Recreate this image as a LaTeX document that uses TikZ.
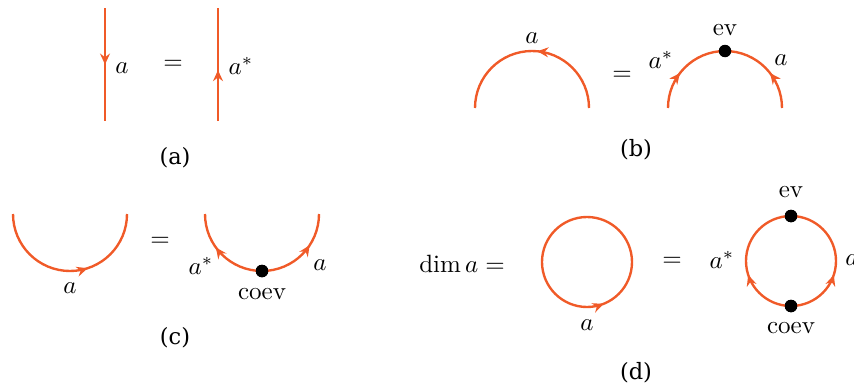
\documentclass[tikz,border=0pt]{standalone}
\usepackage{fontspec}
\newfontfamily\capfont{DejaVu Serif}
\usetikzlibrary{arrows.meta, decorations.markings}
\definecolor{wire}{RGB}{240,90,40}
\tikzset{
    strand/.style = {
        draw=wire, line width=0.95pt
    },
    arrowat/.style = {
        postaction={decorate},
        decoration={markings,
            mark=at position #1 with {\arrow[wire]{Stealth[length=4.4pt,width=4pt,inset=1.5pt]}}}
    },
    dot/.style = {
        circle, fill=black, inner sep=0pt, minimum size=5pt
    },
    caption/.style = {
        font=\capfont\fontsize{9}{10}\selectfont
    }
}

\begin{document}
\begin{tikzpicture}[x=0.4pt, y=0.4pt]
\useasboundingbox (0,0) rectangle (854,388);

% (a)
\coordinate (a1t) at (105,380);
\coordinate (a1b) at (105,267);
\coordinate (a2t) at (218,380);
\coordinate (a2b) at (218,267);
\draw [strand, arrowat=0.5] (a1t) -- (a1b);
\draw [strand, arrowat=0.45] (a2b) -- (a2t);
\node (la1) at (122,320) {$a$};
\node (eqa) at (173,323) {$=$};
\node (la2) at (241,322) {$a^*$};
\node (capa) [caption] at (175,230) {(a)};

% (b)
\coordinate (b1r) at (589,280);
\coordinate (b2l) at (668,280);
\coordinate (b2r) at (782,280);
\draw [strand, arrowat=0.47] (b1r) arc[start angle=0, end angle=180, radius=57];
\draw [strand, arrowat=0.42] (b2l) arc[start angle=180, end angle=90, radius=57];
\draw [strand, arrowat=0.42] (b2r) arc[start angle=0, end angle=90, radius=57];
\node (ev1) [dot] at (725,337) {};
\node (lev1) at (725,358) {$\mathrm{ev}$};
\node (lb1) at (532,350) {$a$};
\node (eqb) at (622,312) {$=$};
\node (lb2) at (661,328) {$a^*$};
\node (lb3) at (781,328) {$a$};
\node (capb) [caption] at (636,238) {(b)};

% (c)
\coordinate (c1l) at (13,174);
\draw [strand, arrowat=0.6] (c1l) arc[start angle=180, end angle=360, radius=57];
\node (co1) [dot] at (262,117) {};
\draw [strand, arrowat=0.6] (co1.center) arc[start angle=270, end angle=180, radius=57];
\draw [strand, arrowat=0.63] (co1.center) arc[start angle=270, end angle=360, radius=57];
\node (co1) [dot] at (262,117) {};
\node (lco1) at (262,94) {$\mathrm{coev}$};
\node (lc1) at (70,100) {$a$};
\node (eqc) at (160,146) {$=$};
\node (lc2) at (201,122) {$a^*$};
\node (lc3) at (320,123) {$a$};
\node (capc) [caption] at (175,50) {(c)};

% (d)
\node (dim) at (462,124) {$\dim a =$};
\coordinate (d1l) at (542,126);
\draw [strand, arrowat=0.31] (d1l) arc[start angle=180, end angle=540, radius=45];
\node (co2) [dot] at (791,82) {};
\node (ev2) [dot] at (791,172) {};
\draw [strand, arrowat=0.4] (co2.center) arc[start angle=270, end angle=90, radius=45];
\draw [strand, arrowat=0.4] (co2.center) arc[start angle=-90, end angle=90, radius=45];
\node (co2) [dot] at (791,82) {};
\node (ev2) [dot] at (791,172) {};
\node (lev2) at (791,196) {$\mathrm{ev}$};
\node (lco2) at (791,60) {$\mathrm{coev}$};
\node (ld1) at (587,63) {$a$};
\node (eqd) at (672,126) {$=$};
\node (ld2) at (722,128) {$a^*$};
\node (ld3) at (852,128) {$a$};
\node (capd) [caption] at (636,15) {(d)};

\end{tikzpicture}
\end{document}
